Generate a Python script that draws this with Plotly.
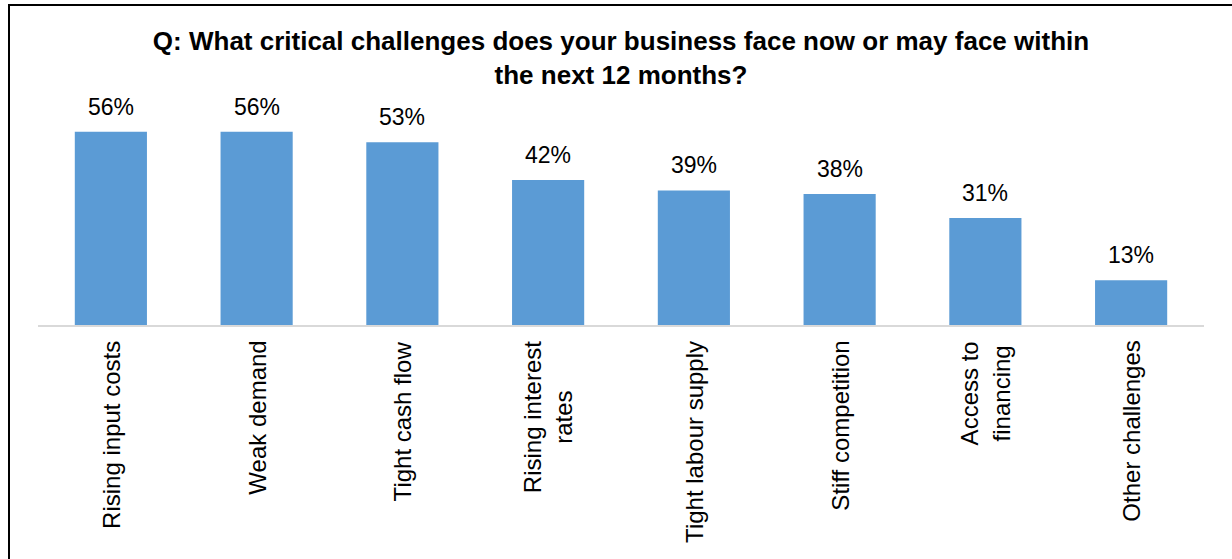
import plotly.graph_objects as go

# Survey results: share of businesses citing each challenge (%)
categories = [
    "Rising input costs",
    "Weak demand",
    "Tight cash flow",
    "Rising interest rates",
    "Tight labour supply",
    "Stiff competition",
    "Access to financing",
    "Other challenges",
]
tick_labels = [
    "Rising input costs",
    "Weak demand",
    "Tight cash flow",
    "Rising interest<br>rates",
    "Tight labour supply",
    "Stiff competition",
    "Access to<br>financing",
    "Other challenges",
]
shares = [56, 56, 53, 42, 39, 38, 31, 13]

title_text = ("Q: What critical challenges does your business face now or may face within"
              "<br>the next 12 months?")

W, H = 1232, 559
M_L, M_R, M_T, M_B = 38, 28, 118, 234
Y_MAX = 60

FONT = "Liberation Sans, Arial, sans-serif"
BAR_COLOR = "#5b9bd5"

fig = go.Figure()
fig.add_trace(go.Bar(
    x=categories,
    y=shares,
    marker=dict(color=BAR_COLOR, line=dict(width=0)),
    width=0.495,
    hoverinfo="skip",
))

# value labels above bars
for cat, v in zip(categories, shares):
    fig.add_annotation(
        x=cat, y=v, xref="x", yref="y",
        text=f"{v}%", showarrow=False,
        xanchor="center", yanchor="bottom", yshift=10,
        font=dict(family=FONT, size=23, color="#000000"),
    )

# rotated category labels below the axis
for cat, lab in zip(categories, tick_labels):
    fig.add_annotation(
        x=cat, y=0, xref="x", yref="y",
        text=lab, showarrow=False, textangle=-90, align="center",
        xanchor="center", yanchor="top", yshift=-14,
        font=dict(family=FONT, size=24, color="#000000"),
    )

# outer chart frame (left and top edges visible)
plot_w = W - M_L - M_R
plot_h = H - M_T - M_B
def px_x(p):
    return (p - M_L) / plot_w
def px_y(p):
    return (H - M_B - p) / plot_h

fig.add_shape(
    type="rect", xref="paper", yref="paper",
    x0=px_x(9), x1=px_x(W + 20), y0=px_y(H + 20), y1=px_y(5),
    line=dict(color="#000000", width=2), fillcolor="rgba(0,0,0,0)",
    layer="above",
)

fig.update_layout(
    width=W, height=H,
    margin=dict(l=M_L, r=M_R, t=M_T, b=M_B, pad=0),
    paper_bgcolor="#ffffff", plot_bgcolor="#ffffff",
    showlegend=False,
    title=dict(
        text=f"<b>{title_text}</b>",
        x=0.5, xref="paper", xanchor="center",
        y=1 - 50 / H, yref="container", yanchor="top",
        font=dict(family=FONT, size=26, color="#000000"),
    ),
    xaxis=dict(
        showticklabels=False, ticks="", showgrid=False, zeroline=False,
        showline=True, linecolor="#d9d9d9", linewidth=1.5,
        range=[-0.5, len(categories) - 0.5],
    ),
    yaxis=dict(
        visible=False, range=[0, Y_MAX], showgrid=False, zeroline=False,
    ),
)

fig.write_html("out.html")
